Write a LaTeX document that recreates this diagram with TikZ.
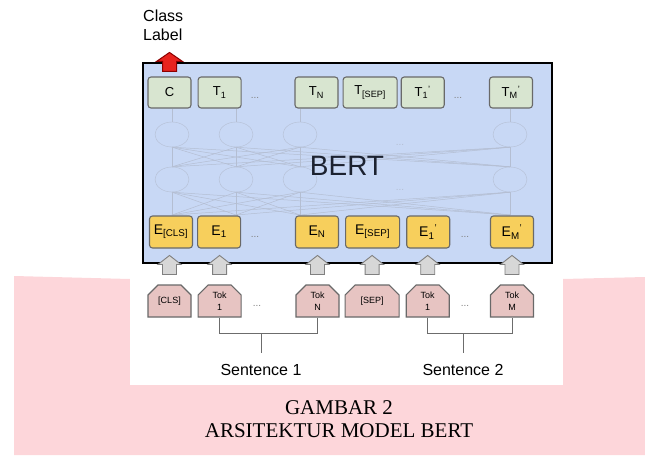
\documentclass[tikz,border=0pt]{standalone}
\usepackage{fontspec}
\setmainfont{Liberation Serif}
\setsansfont{Liberation Sans}
\usepackage{tikz}
\usetikzlibrary{positioning, calc, shapes.geometric, shapes.misc}
\usepackage{xcolor}
\definecolor{bertblue}{RGB}{200,216,245}
\definecolor{outcell}{RGB}{216,229,208}
\definecolor{embcell}{RGB}{247,207,92}
\definecolor{tokcell}{RGB}{231,196,194}
\definecolor{boxedge}{RGB}{105,105,105}
\definecolor{netgray}{RGB}{180,190,210}
\definecolor{pinkbg}{RGB}{253,214,218}
\definecolor{blockgray}{RGB}{215,215,215}
\definecolor{clsred}{RGB}{232,35,30}
\newcommand{\primed}[2]{#1\textsubscript{#2}\textsuperscript{'}}

\begin{document}
\begin{tikzpicture}[
  x=1pt, y=-1pt,
  outbox/.style={draw=boxedge, fill=outcell, line width=1.1pt, rounded corners=3pt,
    minimum width=43pt, minimum height=31pt, inner sep=1pt,
    font=\sffamily\fontsize{13}{15}\selectfont},
  embbox/.style={outbox, fill=embcell, minimum height=32pt,
    font=\sffamily\fontsize{14}{16}\selectfont},
  wide/.style={minimum width=54pt},
  tokbox/.style={chamfered rectangle, chamfered rectangle corners={north west, north east},
    chamfered rectangle xsep=5pt, chamfered rectangle ysep=5pt,
    draw=boxedge, fill=tokcell, line width=1.1pt, minimum width=43pt, minimum height=32pt,
    inner sep=1pt, align=center, font=\sffamily\fontsize{9}{11.5}\selectfont},
  dots/.style={text=gray, inner sep=0pt, font=\sffamily\fontsize{10}{12}\selectfont},
  cell/.style={ellipse, draw=netgray, minimum width=34pt, minimum height=25pt, inner sep=0pt},
  net/.style={netgray, line width=0.5pt},
  blockup/.style={draw=gray, fill=blockgray, line width=0.9pt},
  redup/.style={draw=red!55!black, fill=clsred, line width=1pt},
  bracket/.style={draw=gray!85!black, line width=1pt},
  lbl/.style={inner sep=0pt, font=\sffamily\fontsize{16}{19}\selectfont},
  caption/.style={inner sep=0pt, font=\rmfamily\fontsize{21}{23}\selectfont}
]
  \useasboundingbox (0,0) rectangle (645,455);

  % page background behind the figure
  \fill[pinkbg] (14,276) -- (130,279) -- (563,279) -- (645,277) -- (645,455) -- (14,455) -- cycle;
  \fill[white] (130,270) rectangle (563,385);

  % the encoder block
  \node[draw=black, fill=bertblue, line width=2pt, minimum width=409pt, minimum height=200pt,
    inner sep=0pt] (bert) at (347.5,163) {};

  % faint layers inside
  \foreach \x in {172,236,300,510} {
    \node[cell] (hi\x) at (\x,134.5) {};
    \node[cell] (lo\x) at (\x,179.5) {};
    \draw[net] (\x,109) -- (hi\x.north);
  }
  \foreach \a in {172,236,300,510} {
    \foreach \b in {172,236,300,510} {
      \draw[net] (lo\a.north) -- (hi\b.south);
      \draw[net] (\a,215) -- (lo\b.south);
    }
  }
  \node[dots, text=netgray] (netdots1) at (400,145) {...};
  \node[dots, text=netgray] (netdots2) at (400,190) {...};
  \node[inner sep=0pt, text={rgb,255:red,28;green,34;blue,48},
    font=\sffamily\fontsize{28}{30}\selectfont] (bertlbl) at (347,166) {BERT};

  % output row
  \node[outbox] (c) at (169.5,92.5) {C};
  \node[outbox, right=6pt of c] (t1) {T\textsubscript{1}};
  \node[outbox] (tn) at (316.5,92.5) {T\textsubscript{N}};
  \node[outbox, wide, right=4pt of tn] (tsep) {T\textsubscript{[SEP]}};
  \node[outbox, right=3pt of tsep] (ta) {\primed{T}{1}};
  \node[outbox] (tm) at (511,92.5) {\primed{T}{M}};
  \node[dots, anchor=base] (tdots1) at (255,98) {...};
  \node[dots, anchor=base] (tdots2) at (458,98) {...};

  % embedding row
  \node[embbox] (ecls) at (171,232) {E\textsubscript{[CLS]}};
  \node[embbox, right=4pt of ecls] (e1) {E\textsubscript{1}};
  \node[embbox] (en) at (317,232) {E\textsubscript{N}};
  \node[embbox, wide, right=6pt of en] (esep) {E\textsubscript{[SEP]}};
  \node[embbox, right=6pt of esep] (ea) {\primed{E}{1}};
  \node[embbox] (em) at (512,232) {\primed{E}{M}};
  \node[dots, anchor=base] (edots1) at (255,237) {...};
  \node[dots, anchor=base] (edots2) at (465,237) {...};

  % input tokens
  \node[tokbox] (kcls) at (169.5,301) {[CLS]};
  \node[tokbox, right=6pt of kcls] (k1) {Tok\\1};
  \node[tokbox] (kn) at (317.5,301) {Tok\\N};
  \node[tokbox, wide, right=5pt of kn] (ksep) {[SEP]};
  \node[tokbox, right=6pt of ksep] (ka) {Tok\\1};
  \node[tokbox] (km) at (512,301) {Tok\\M};
  \node[dots, anchor=base] (kdots1) at (257,306) {...};
  \node[dots, anchor=base] (kdots2) at (465,306) {...};

  % tokens into embeddings
  \foreach \k in {kcls,k1,kn,ksep,ka,km}
    \draw[blockup] ($(\k.north)+(-7,-10)$) -- ++(0,-10) -- ++(-4.5,0) -- ++(11.5,-9)
      -- ++(11.5,9) -- ++(-4.5,0) -- ++(0,10) -- cycle;

  % classifier output
  \draw[redup] ($(c.north)+(-7,-5)$) -- ++(0,-10) -- ++(-6,0) -- ++(13,-9)
    -- ++(13,9) -- ++(-6,0) -- ++(0,10) -- cycle;
  \node[lbl, anchor=base west] (cls1) at (143,21) {Class};
  \node[lbl, anchor=base west] (cls2) at (143,40) {Label};

  % sentence brackets
  \draw[bracket] (k1.south) -- ++(0,16) -| (kn.south);
  \draw[bracket] (ka.south) -- ++(0,16) -| (km.south);
  \node[lbl, anchor=base] (sent1) at (261,375) {Sentence 1};
  \node[lbl, anchor=base] (sent2) at (463,375) {Sentence 2};
  \coordinate (s1top) at (261,333);
  \coordinate (s2top) at (463,333);
  \draw[bracket, shorten >=11pt] (s1top) -- (sent1.north);
  \draw[bracket, shorten >=11pt] (s2top) -- (sent2.north);

  % caption
  \node[caption, anchor=base] (cap1) at (339,414) {GAMBAR 2};
  \node[caption, anchor=base] (cap2) at (339,437) {ARSITEKTUR MODEL BERT};
\end{tikzpicture}
\end{document}
